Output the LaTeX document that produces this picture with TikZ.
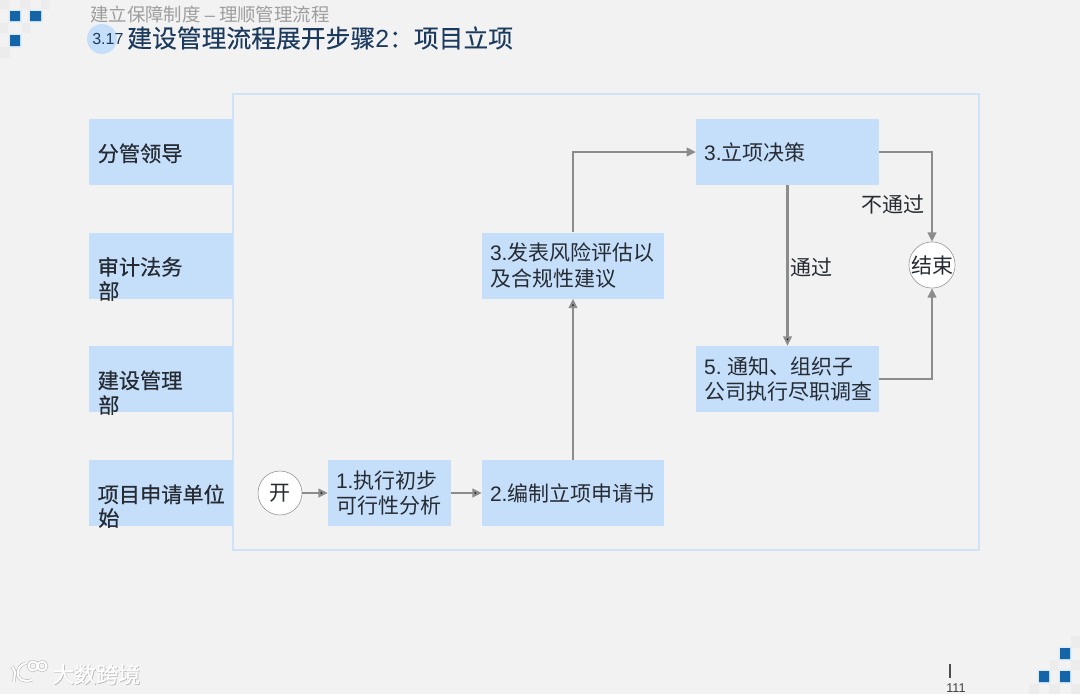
\documentclass[tikz,border=0pt]{standalone}
\usepackage{fontspec}
\setmainfont{Noto Sans CJK SC}
\newfontfamily\latfont{Liberation Sans}
\newfontfamily\lanefont[FakeBold=0.5]{Noto Sans CJK SC}
\newfontfamily\titlefont[FakeBold=0.3]{Noto Sans CJK SC}
\usetikzlibrary{arrows.meta,positioning,calc}
\definecolor{pagebg}{HTML}{F2F2F2}
\definecolor{boxblue}{HTML}{C5DFFA}
\definecolor{framelight}{HTML}{CFE3F8}
\definecolor{linegrey}{HTML}{8C8C8C}
\definecolor{inkdark}{HTML}{262B33}
\definecolor{titleblue}{HTML}{1B3A5E}
\definecolor{cornerblue}{HTML}{1464A8}
\definecolor{cornerhalo}{HTML}{DCEBF8}
\definecolor{cornerfaint}{HTML}{ECECEC}
\newcommand{\lat}[1]{{\latfont #1}}
\newcommand{\bodyfont}{\fontsize{15.75}{19.2}\selectfont}
\newcommand{\lanesize}{\lanefont\fontsize{15.9}{19.2}\selectfont}
\begin{document}
\begin{tikzpicture}[x=0.75pt,y=-0.75pt,
            lanebox/.style={rectangle,fill=boxblue,text=inkdark,minimum height=49.5pt,inner xsep=6.5pt,inner ysep=0pt,text width=95pt,text height=15.5pt,align=left,font=\lanesize},
            laneextra/.style={inner sep=0pt,text=inkdark,font=\lanesize},
            stepbox/.style={rectangle,fill=boxblue,text=inkdark,minimum height=49.5pt,inner xsep=6pt,inner ysep=0pt,align=left,font=\bodyfont},
            roundbox/.style={circle,draw=linegrey,fill=white,thin,inner sep=0pt,minimum size=#1,text=inkdark,font=\bodyfont},
            flowedge/.style={draw=linegrey,line width=1.6pt,-{Triangle[length=7pt,width=6.5pt]}},
            edgetext/.style={inner sep=0pt,text=inkdark,font=\bodyfont},
            corner/.style={fill=cornerblue,draw=none},
            halo/.style={fill=cornerhalo,draw=none},
            marklogo/.style={draw=white,line width=1.5pt},
            markshade/.style={draw=black!28,line width=2.4pt}
        ]
            \fill[pagebg] (0,0) rectangle (1080,694);
            \useasboundingbox (0,0) rectangle (1080,694);
            % corner squares
            \fill[cornerfaint] (0,0) rectangle (10,9) (20,0) rectangle (30,9) (41,0) rectangle (50,9);
            \fill[cornerfaint] (0,23) rectangle (8,33) (22,23) rectangle (30,33);
            \fill[cornerfaint] (0,47) rectangle (10,58);
            \fill[halo] (8.5,9.5) rectangle (21.5,22.5) (28.5,9.5) rectangle (42.5,22.5) (8.5,33.5) rectangle (21.5,47.5);
            \fill[corner] (10,11) rectangle (20,21) (30,11) rectangle (41,21) (10,35) rectangle (20,46);
            \fill[cornerfaint] (1071,636) rectangle (1080,648) (1050,660) rectangle (1058,670) (1071,660) rectangle (1080,670);
            \fill[cornerfaint] (1029,684) rectangle (1039,694) (1049,684) rectangle (1060,694) (1071,684) rectangle (1080,694);
            \fill[halo] (1058.5,646.5) rectangle (1071.5,660.5) (1037.5,669.5) rectangle (1050.5,683.5) (1058.5,669.5) rectangle (1071.5,683.5);
            \fill[corner] (1060,648) rectangle (1070,659) (1039,671) rectangle (1049,682) (1060,671) rectangle (1070,682);
            % heading
            \node[inner sep=0pt,anchor=west,text=black!38,font=\fontsize{13.8}{15}\selectfont] (subtitle) at (90,14) {建立保障制度 \lat{–} 理顺管理流程};
            \fill[boxblue] (102,39) circle (15);
            \node[inner sep=0pt,anchor=west,text=titleblue,font=\latfont\fontsize{12}{14}\selectfont] (secnum) at (92,38.5) {3.17};
            \node[inner sep=0pt,anchor=west,text=titleblue,font=\titlefont\fontsize{18.6}{24}\selectfont] (title) at (127,38) {建设管理流程展开步骤\lat{2}：项目立项};
            % frame
            \node[rectangle,draw=framelight,line width=2pt,minimum width=559.5pt,minimum height=342pt,inner sep=0pt] (frame) at (606,322) {};
            % lanes
            \node[lanebox] (lead) at (161,152) {分管领导};
            \node[lanebox] (audit) at (161,265.5) {审计法务};
            \node[lanebox] (build) at (161,379) {建设管理};
            \node[lanebox] (apply) at (161,493) {项目申请单位};
            \node[laneextra,anchor=west] (audit2) at (98,291) {部};
            \node[laneextra,anchor=west] (build2) at (98,405) {部};
            \node[laneextra,anchor=west] (apply2) at (98,518) {始};
            % steps
            \node[roundbox=33pt] (start) at (280,493) {开};
            \node[stepbox,text width=80.25pt] (feas) at (389.5,493) {\lat{1.}执行初步\\可行性分析};
            \node[stepbox,text width=124.5pt] (draft) at (573,493) {\lat{2.}编制立项申请书};
            \node[stepbox,text width=124.5pt] (risk) at (573,265.5) {\lat{3.}发表风险评估以\\及合规性建议};
            \node[stepbox,text width=125pt] (decide) at (787.5,152) {\lat{3.}立项决策};
            \node[stepbox,text width=125pt] (notify) at (787.5,379) {\lat{5.}\hspace{4pt}通知、组织子\\公司执行尽职调查};
            \node[roundbox=32pt] (finish) at (932,265) {结束};
            \path[flowedge]
                (start) edge (feas)
                (feas) edge (draft)
                (draft) edge (risk)
                (decide) edge (notify);
            \draw[flowedge] (risk.north) |- (decide.west);
            \draw[flowedge] (decide.east) -| (finish.north);
            \draw[flowedge] (notify.east) -| (finish.south);
            \node[edgetext] (nopass) at (893,205) {不通过};
            \node[edgetext] (pass) at (811,267) {通过};
            % page number
            \coordinate (bartop) at (950,664);
            \coordinate (barend) at (950,678);
            \draw[black!70,line width=0.9pt] (bartop) -- (barend);
            \node[inner sep=0pt,text=black!75,font=\latfont\fontsize{9.5}{11}\selectfont] (pageno) at (956,688) {111};
            % watermark
            \draw[markshade] (12,666) -- (15,672) -- (14,682) (26,663) .. controls (14,666) and (14,685) .. (32,680) (33,666) circle (4.5) (42,666) circle (4.5);
            \draw[marklogo] (12,666) -- (15,672) -- (14,682) (26,663) .. controls (14,666) and (14,685) .. (32,680) (33,666) circle (4.5) (42,666) circle (4.5);
            \node[inner sep=0pt,anchor=west,text=black!30,font=\lanefont\fontsize{16.5}{20}\selectfont] (markshade) at (52.7,675) {大数跨境};
            \node[inner sep=0pt,anchor=west,text=white,font=\lanefont\fontsize{16.5}{20}\selectfont] (marktext) at (52,674.3) {大数跨境};
        \end{tikzpicture}
\end{document}
